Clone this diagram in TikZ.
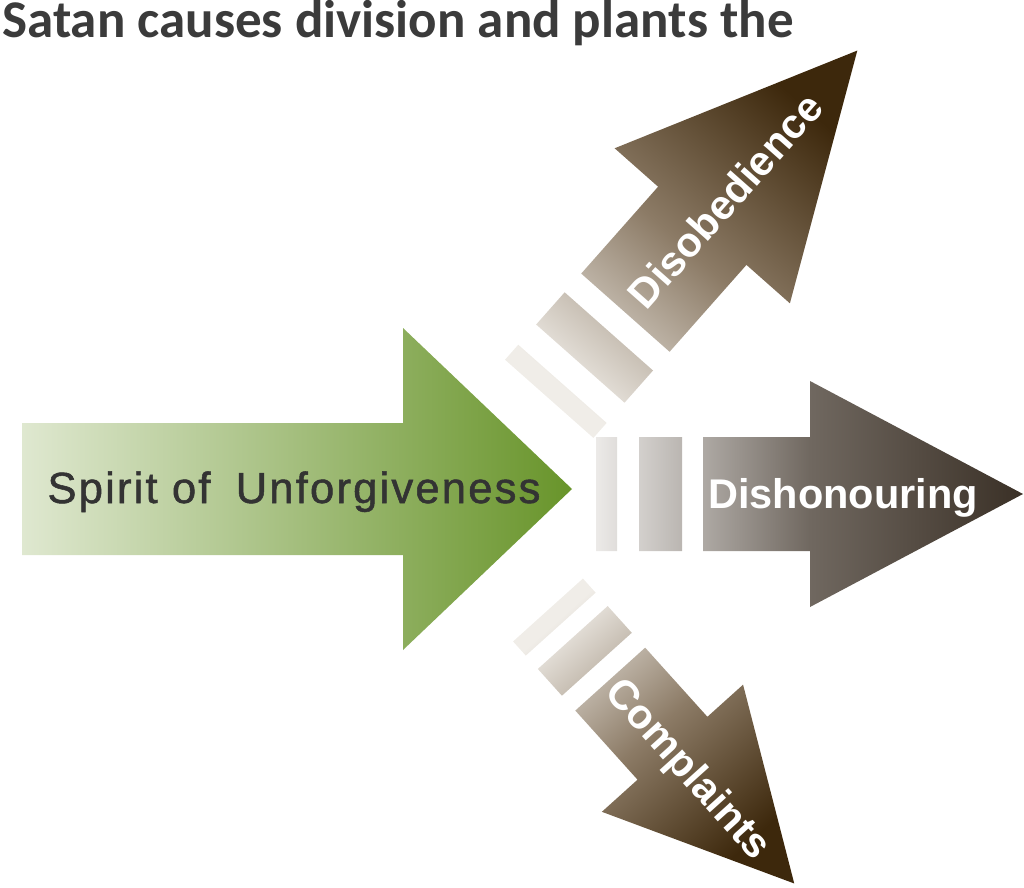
\documentclass[tikz,border=0pt]{standalone}
\usepackage{fontspec}
\usepackage{tikz}
\usetikzlibrary{positioning}
\setmainfont{Liberation Sans}
\newfontfamily\headfont{Carlito}
\newfontfamily\spiritfont[LetterSpace=5, FakeBold=1.2]{Liberation Sans}
\definecolor{myhead}{RGB}{59,59,59}
\definecolor{mytext}{RGB}{51,51,51}
\definecolor{greenlight}{RGB}{223,232,208}
\definecolor{greendark}{RGB}{104,148,42}
\definecolor{greylight}{RGB}{236,234,232}
\definecolor{greymid}{RGB}{112,104,96}
\definecolor{greydark}{RGB}{58,48,38}
\definecolor{brownlight}{RGB}{240,237,232}
\definecolor{brownmid}{RGB}{140,123,102}
\definecolor{browndark}{RGB}{61,40,12}
\tikzset{
  greenarrow/.style={left color=greenlight, right color=greendark},
  greyarrow/.style={left color=greylight, right color=greydark, middle color=greymid},
  brownarrow/.style={left color=brownlight, right color=browndark, middle color=brownmid},
  headline/.style={font=\headfont\bfseries\fontsize{37.7}{44}\selectfont,
    text=myhead, inner sep=0pt},
  spirit/.style={font=\spiritfont\fontsize{31}{36}\selectfont,
    text=mytext, inner sep=0pt},
  branch/.style={font=\bfseries\fontsize{29.5}{35}\selectfont,
    text=white, inner sep=0pt}
}

\begin{document}
\begin{tikzpicture}[x=0.025cm, y=-0.025cm]
  \useasboundingbox (0,0) rectangle (1024,887);
  \node[headline, anchor=base west] (head) at (2,38) {Satan causes division and plants the};

  % main arrow
  \shade[greenarrow] (22,423) -- (403,423) -- (403,328) -- (572,489)
    -- (403,650) -- (403,555) -- (22,555) -- cycle;
  \node[spirit, anchor=base] (spirit) at (294,503) {Spirit of\hspace{0.25em} Unforgiveness};

  % upper branch
  \begin{scope}[shift={(549.2,398.8)}, rotate=48.5]
    \shade[brownarrow, shading angle=138.5] (0,-59) rectangle (20,59)
      (47,-59) rectangle (90,59)
      (115,-59) -- (231,-59) -- (231,-117) -- (465,0) -- (231,117)
      -- (231,59) -- (115,59) -- cycle;
    \node[branch, anchor=base, rotate=48.5] (disobey) at (265,15) {Disobedience};
  \end{scope}

  % middle branch
  \begin{scope}[shift={(596,494)}]
    \shade[greyarrow] (0,-57) rectangle (21,57)
      (43,-57) rectangle (86,57)
      (107,-57) -- (214,-57) -- (214,-113) -- (427,0) -- (214,113)
      -- (214,57) -- (107,57) -- cycle;
    \node[branch, anchor=base] (dishonour) at (247,14) {Dishonouring};
  \end{scope}

  % lower branch
  \begin{scope}[shift={(548,610)}, rotate=-48]
    \shade[brownarrow, shading angle=42] (0,-47) rectangle (19,47)
      (37,-47) rectangle (73,47)
      (93,-47) -- (186,-47) -- (186,-95) -- (368,0) -- (186,95)
      -- (186,47) -- (93,47) -- cycle;
    \node[branch, anchor=base, rotate=-48] (complain) at (212,15) {Complaints};
  \end{scope}
\end{tikzpicture}
\end{document}
